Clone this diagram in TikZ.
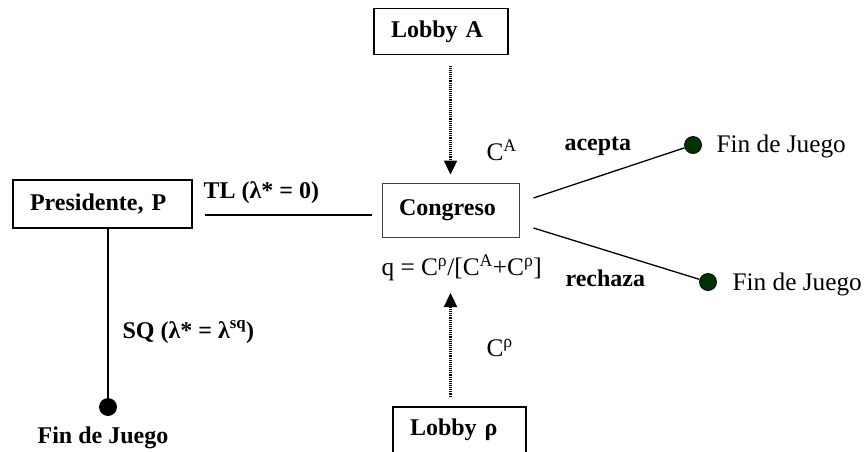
\documentclass[tikz,border=0pt]{standalone}
\usepackage{fontspec}
\setmainfont{Liberation Serif}
\usetikzlibrary{arrows.meta}

\begin{document}
\begin{tikzpicture}[x=1pt,y=-1pt,font=\fontsize{24}{29}\selectfont]
    \tikzstyle{lien}=[line width=1.3pt]
    \tikzstyle{fleche}=[-{Triangle[width=13pt,length=14pt]},line width=2.4pt,dash pattern=on 1pt off 0.9pt]
    \tikzstyle{texte}=[anchor=west,font=\fontsize{25.3}{30}\selectfont]
\tikzset{acteur/.style={draw,line width=1.4pt,inner xsep=17pt,inner ysep=0pt,text width=#1,align=left,minimum height=46pt},
acteur/.default={100pt},
fin/.style={circle,draw,line width=0.8pt,fill=#1,inner sep=0pt,minimum size=17pt},
fin/.default={black}}
\clip (0,0) rectangle (864,451);

\node[acteur] (lobbyA) at (441,31.5){\textbf{Lobby A}};
\node[acteur=99pt] (lobbyR) at (459.5,430){\textbf{Lobby ρ}};
\node[acteur=145pt,minimum height=48pt] (pres) at (102.5,204){\textbf{Presidente, P}};
\node[acteur=103pt,minimum height=54pt,line width=1pt,draw=black!75] (cong) at (450.5,210){\textbf{Congreso}};

\node[fin] (finP) at (108,407){};
\node[fin={green!20!black}] (finA) at (693,145){};
\node[fin={green!20!black}] (finR) at (708,282){};

\node[anchor=west] (tl) at (200,193){\textbf{TL (λ* = 0)}};
\node[anchor=west] (sq) at (119,332){\textbf{SQ (λ* = λ\textsuperscript{sq})}};
\node (finPtxt) at (103,438){\textbf{Fin de Juego}};
\node[texte] (ca) at (483,150){C\textsuperscript{A}};
\node[texte] (cr) at (483,348){C\textsuperscript{ρ}};
\node[texte] (q) at (378,268){q = C\textsuperscript{ρ}/[C\textsuperscript{A}+C\textsuperscript{ρ}]};
\node[anchor=west] (acepta) at (561,146){\textbf{acepta}};
\node[anchor=west] (rechaza) at (562,278){\textbf{rechaza}};
\node[texte] (finAtxt) at (713,146){Fin de Juego};
\node[texte] (finRtxt) at (729,284){Fin de Juego};

\coordinate (tly) at (0,215);
\coordinate (qtip) at (450.5,293);

% liens du jeu
\draw[lien,shorten <=12pt,shorten >=10pt] (pres.east |- tly) -- (cong.west |- tly);
\draw[lien] (pres.south -| finP) -- (finP);
\draw[lien] ([xshift=14pt,yshift=12pt]cong.east) -- (finA);
\draw[lien] ([xshift=14pt,yshift=-18pt]cong.east) -- (finR);

% influence des lobbies
\draw[fleche,shorten <=11pt,shorten >=8pt] (cong.north |- lobbyA.south) -- (cong.north);
\draw[fleche,shorten <=9pt] (lobbyR.north -| qtip) -- (qtip);

\end{tikzpicture}
\end{document}
